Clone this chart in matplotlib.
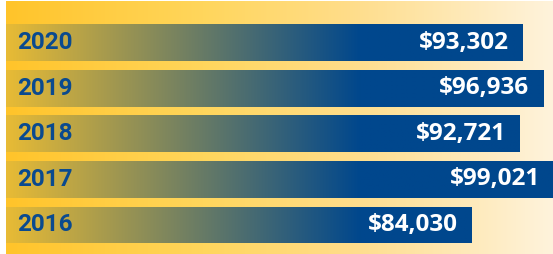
import numpy as np
import matplotlib
matplotlib.use("Agg")
import matplotlib.pyplot as plt
from matplotlib.colors import to_rgb

years = ["2016", "2017", "2018", "2019", "2020"]
values = [84030, 99021, 92721, 96936, 93302]
value_labels = ["$84,030", "$99,021", "$92,721", "$96,936", "$93,302"]

W, H = 553, 254
fig = plt.figure(figsize=(W / 100, H / 100), dpi=100)
fig.patch.set_facecolor("white")
ax = fig.add_axes([6 / W, 0, 547 / W, 253 / H])

scale = 0.00554  # px per $
xmax = 547 / scale
ax.set_xlim(0, xmax)
ax.set_ylim(-0.636, 4.91)
ax.axis("off")

def grad(stops, n=600):
    pos = np.array([s[0] for s in stops])
    cols = np.array([to_rgb(s[1]) for s in stops])
    t = np.linspace(0, 1, n)
    out = np.stack([np.interp(t, pos, cols[:, k]) for k in range(3)], axis=-1)
    return out[None, :, :]

# background gradient
bg = grad([(0, "#FFC42A"), (0.36, "#FFD65C"), (0.63, "#FFDD8A"), (1.0, "#FEF3DC")])
ax.imshow(bg, extent=(0, xmax, -0.636, 4.91), aspect="auto", zorder=0,
          interpolation="bilinear")

# bar gradient: gold at left to blue at ~px 360, solid blue after
gend = (360 - 6) / 547
bgrad = grad([(0, "#E8BB35"), (gend, "#00478D"), (1.0, "#00478D")])

ypos = np.arange(len(years))
bars = ax.barh(ypos, values, height=0.81, color="none", edgecolor="none", zorder=1)
for b in bars:
    im = ax.imshow(bgrad, extent=(0, xmax, -0.636, 4.91), aspect="auto",
                   zorder=2, interpolation="bilinear")
    im.set_clip_path(b)

ax.set_xlim(0, xmax)
ax.set_ylim(-0.636, 4.91)

off = 14 / scale
for y, yr, v, lab in zip(ypos, years, values, value_labels):
    ax.text(11 / scale, y, yr, ha="left", va="center", color="#0A4A8F",
            fontsize=17.5, fontweight="bold", family="Roboto", zorder=3)
    ax.text(v - off, y, lab, ha="right", va="center", color="white",
            fontsize=17.5, fontweight="bold", family="Open Sans", zorder=3)

fig.savefig("out.png", dpi=100)
